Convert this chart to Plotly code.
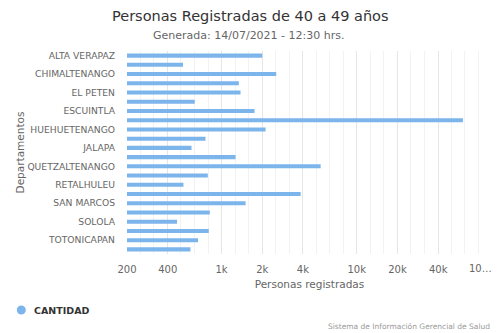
import math
import plotly.graph_objects as go

departamentos = ["ALTA VERAPAZ", "BAJA VERAPAZ", "CHIMALTENANGO", "CHIQUIMULA", "EL PETEN",
                 "EL PROGRESO", "ESCUINTLA", "GUATEMALA", "HUEHUETENANGO", "IZABAL", "JALAPA",
                 "JUTIAPA", "QUETZALTENANGO", "QUICHE", "RETALHULEU", "SACATEPEQUEZ",
                 "SAN MARCOS", "SANTA ROSA", "SOLOLA", "SUCHITEPEQUEZ", "TOTONICAPAN", "ZACAPA"]
cantidad = [2000, 519, 2538, 1343, 1382, 634, 1755, 60960, 2118, 761, 600,
            1270, 5410, 792, 523, 3848, 1506, 819, 469, 805, 671, 589]
tick_vals = [200, 400, 1000, 2000, 4000, 10000, 20000, 40000, 100000]
tick_text = ["200", "400", "1k", "2k", "4k", "10k", "20k", "40k", ""]

FONT = "DejaVu Sans"
W, H = 500, 333
L, R, T, B = 127, 8, 51, 79
PW, PH = W - L - R, H - T - B

def px(x):
    return (x - L) / PW

def py(y):
    return (H - B - y) / PH

minor_vals = []
for e in range(2, 5):
    for k in range(10):
        v = 10 ** (e + k / 10)
        if 200 < v < 100000 and all(abs(v - t) / t > 0.03 for t in tick_vals):
            minor_vals.append(v)

fig = go.Figure()
fig.add_trace(go.Bar(
    y=departamentos, x=cantidad, orientation="h",
    marker=dict(color="#7cb5ec", line=dict(width=0)),
    name="CANTIDAD", showlegend=False,
))

fig.update_layout(
    width=W, height=H,
    margin=dict(l=L, r=R, t=T, b=B, pad=0, autoexpand=False),
    paper_bgcolor="white", plot_bgcolor="white",
    font=dict(family=FONT, color="#666666"),
    bargap=0.56,
    showlegend=False,
    xaxis=dict(
        type="log", range=[math.log10(200), 5], automargin=False,
        tickmode="array", tickvals=tick_vals, ticktext=tick_text,
        showgrid=True, gridcolor="#e6e6e6", gridwidth=1,
        minor=dict(tickmode="array", tickvals=minor_vals, showgrid=True,
                   gridcolor="#f2f2f2", gridwidth=1, ticks=""),
        zeroline=False, showline=False, ticks="",
        tickfont=dict(size=10, color="#666666"),
        ticklabelstandoff=8,
        title=dict(text="Personas registradas", font=dict(size=10.5, color="#666666"), standoff=6),
    ),
    yaxis=dict(
        type="category", autorange="reversed", automargin=False,
        tickmode="array", tickvals=departamentos[::2], ticktext=departamentos[::2],
        showgrid=False, zeroline=False, showline=False, ticks="",
        tickfont=dict(size=9.2, color="#666666"),
        ticklabelstandoff=11,
        title=dict(text="Departamentos", font=dict(size=10.5, color="#666666"), standoff=0),
    ),
)

fig.add_annotation(text="Personas Registradas de 40 a 49 años", xref="paper", yref="paper",
                   x=px(250), y=py(16), xanchor="center", yanchor="middle", showarrow=False,
                   font=dict(size=14.5, color="#333333", family=FONT))
fig.add_annotation(text="Generada: 14/07/2021 - 12:30 hrs.", xref="paper", yref="paper",
                   x=px(249), y=py(35), xanchor="center", yanchor="middle", showarrow=False,
                   font=dict(size=11, color="#666666", family=FONT))
fig.add_annotation(text="10…", xref="x", yref="paper", x=5, y=py(268), xshift=-12,
                   xanchor="center", yanchor="middle", showarrow=False,
                   font=dict(size=10, color="#666666", family=FONT))
fig.add_shape(type="circle", xref="paper", yref="paper", xsizemode="pixel", ysizemode="pixel",
              xanchor=px(21.3), yanchor=py(310), x0=-4.5, x1=4.5, y0=-4.5, y1=4.5,
              fillcolor="#7cb5ec", line=dict(width=0))
fig.add_annotation(text="<b>CANTIDAD</b>", xref="paper", yref="paper", x=px(32), y=py(310),
                   xanchor="left", yanchor="middle", showarrow=False,
                   font=dict(size=9.5, color="#333333", family=FONT))
fig.add_annotation(text="Sistema de Información Gerencial de Salud", xref="paper", yref="paper",
                   x=px(492), y=py(326), xanchor="right", yanchor="middle", showarrow=False,
                   font=dict(size=7.5, color="#999999", family=FONT))

fig.write_html("out.html")
